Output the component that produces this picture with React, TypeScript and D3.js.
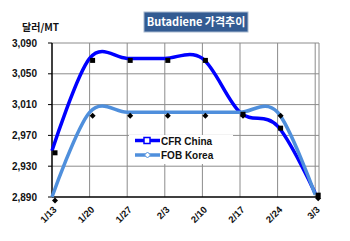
import React from "react";
import * as d3 from "d3";

const categories = ["1/13", "1/20", "1/27", "2/3", "2/10", "2/17", "2/24", "3/3"];
const cfrChina = [2950, 3070, 3070, 3070, 3070, 3000, 2982, 2895];
const fobKorea = [2890, 3000, 3000, 3000, 3000, 3000, 3000, 2893];
const yTicks = [2890, 2930, 2970, 3010, 3050, 3090];

const W = 350, H = 241;
const left = 52, plotRight = 319, top = 43, bottom = 197;
const font = "'Liberation Sans', Arial, sans-serif";

export default function App() {
  const x = d3.scalePoint<string>().domain(categories).range([left, 315.2]);
  const y = d3.scaleLinear().domain([2890, 3090]).range([bottom, top]);
  const line = d3
    .line<number>()
    .x((_, i) => x(categories[i]) as number)
    .y((d) => y(d))
    .curve(d3.curveCardinal.tension(0));

  const grid = "#8c8c8c";
  const darkBlue = "#0000ff";
  const lightBlue = "#4f8fdc";

  return (
    <svg width={W} height={H} style={{ position: "absolute", left: 0, top: 0, background: "#fff" }} fontFamily={font}>
      {/* title */}
      <rect x={144} y={12} width={104} height={20} fill="#335b92" stroke="#a9bad0" strokeWidth={1} />
      <text x={196} y={26} textAnchor="middle" fill="#fff" fontWeight="bold" fontSize={11} fontFamily="'Noto Sans CJK KR', 'Liberation Sans', sans-serif">
        Butadiene 가격추이
      </text>
      <text x={22} y={31} fontWeight="bold" fontSize={10} fill="#111" fontFamily="'Noto Sans CJK KR', 'Liberation Sans', sans-serif">
        달러/MT
      </text>

      {/* horizontal grid */}
      {yTicks.slice(1).map((t) => (
        <line key={"h" + t} x1={left} x2={plotRight} y1={y(t)} y2={y(t)} stroke={grid} strokeWidth={1} />
      ))}
      {/* vertical grid */}
      {categories.slice(1).map((c) => (
        <line key={"v" + c} x1={x(c)} x2={x(c)} y1={top} y2={bottom} stroke={grid} strokeWidth={1} />
      ))}
      <line x1={plotRight} x2={plotRight} y1={top} y2={bottom} stroke={grid} strokeWidth={1} />

      {/* legend background */}
      <rect x={129} y={135} width={104} height={29} fill="#fff" />

      {/* axes */}
      <line x1={left} x2={left} y1={top} y2={bottom} stroke="#000" strokeWidth={1.5} />
      <line x1={left} x2={plotRight} y1={bottom} y2={bottom} stroke="#000" strokeWidth={1.5} />
      {yTicks.map((t) => (
        <g key={"yt" + t}>
          <line x1={left - 4} x2={left} y1={y(t)} y2={y(t)} stroke="#000" />
          <text x={37} y={y(t) + 3.5} textAnchor="end" fontSize={10} fontWeight="bold" fill="#111">
            {d3.format(",")(t)}
          </text>
        </g>
      ))}
      {categories.map((c) => (
        <text
          key={"xt" + c}
          transform={`translate(${(x(c) as number) + 3},${208}) rotate(-45)`}
          textAnchor="end"
          fontSize={9.5}
          fontWeight="bold"
          fill="#111"
          dy="0.35em"
        >
          {c}
        </text>
      ))}

      {/* lines */}
      <path d={line(cfrChina) || ""} fill="none" stroke={darkBlue} strokeWidth={3.5} />
      <path d={line(fobKorea) || ""} fill="none" stroke={lightBlue} strokeWidth={3.5} />

      {/* markers (shadow-like black) */}
      {cfrChina.map((v, i) => (
        <rect key={"cm" + i} x={(x(categories[i]) as number) + 0.5} y={y(v) - 0.5} width={5} height={5} fill="#000" />
      ))}
      {fobKorea.map((v, i) => {
        const cx = (x(categories[i]) as number) + 3;
        const cy = y(v) + 3.5;
        return <path key={"fm" + i} d={`M${cx},${cy - 3}L${cx + 3},${cy}L${cx},${cy + 3}L${cx - 3},${cy}Z`} fill="#000" />;
      })}

      {/* legend */}
      <line x1={135} x2={160} y1={140.5} y2={140.5} stroke={darkBlue} strokeWidth={3.5} />
      <rect x={144} y={137.5} width={6} height={6} fill="#fff" stroke={darkBlue} strokeWidth={1.5} />
      <text x={161} y={144.5} fontSize={10} fontWeight="bold" fill="#111">CFR China</text>
      <line x1={135} x2={160} y1={155} y2={155} stroke={lightBlue} strokeWidth={3.5} />
      <path d="M147.5,152L150.5,155L147.5,158L144.5,155Z" fill="#fff" stroke={lightBlue} strokeWidth={1} />
      <text x={161} y={159} fontSize={10} fontWeight="bold" fill="#111">FOB Korea</text>
    </svg>
  );
}
